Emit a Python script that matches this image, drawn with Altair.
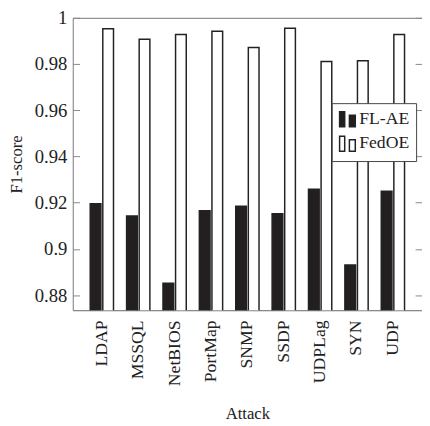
import altair as alt
import pandas as pd

attacks = ["LDAP", "MSSQL", "NetBIOS", "PortMap", "SNMP", "SSDP", "UDPLag", "SYN", "UDP"]
fl_ae = [0.9195, 0.9142, 0.8852, 0.9165, 0.9185, 0.9152, 0.9258, 0.8930, 0.9250]
fedoe = [0.9953, 0.9907, 0.9928, 0.9942, 0.9872, 0.9955, 0.9811, 0.9814, 0.9928]
series = ["FL-AE", "FedOE"]
y_ticks = [0.88, 0.9, 0.92, 0.94, 0.96, 0.98, 1.0]

rows = []
for a, v1, v2 in zip(attacks, fl_ae, fedoe):
    rows.append({"Attack": a, "Method": series[0], "F1": v1})
    rows.append({"Attack": a, "Method": series[1], "F1": v2})
df = pd.DataFrame(rows)

FONT = "'Liberation Serif', 'Times New Roman', 'DejaVu Serif', serif"
symbol_path = "M-1,-0.9H-0.35V1H-1Z M0.25,-0.45H1V1H0.25Z"

yscale = alt.Scale(domain=[0.8735, 1.0], zero=False, nice=False)
xenc = alt.X("Attack:N", sort=attacks,
             scale=alt.Scale(paddingInner=0.36, paddingOuter=0.48),
             axis=alt.Axis(title="Attack", labelAngle=270, ticks=False, labelPadding=10,
                           labelFont=FONT, titleFont=FONT, titleFontWeight="normal",
                           labelFontSize=18, titleFontSize=17, titlePadding=20,
                           domainColor="#888", labelColor="#222", titleColor="#222"))
xoff = alt.XOffset("Method:N", sort=series, scale=alt.Scale(paddingInner=0.15))

bars = alt.Chart(df).mark_bar(stroke="#222", strokeWidth=1.5, clip=True).encode(
    x=xenc,
    xOffset=xoff,
    y=alt.Y("F1:Q", scale=yscale,
            axis=alt.Axis(title="F1-score", values=y_ticks, format="~g", offset=-7, tickSize=7,
                          domain=False, grid=False, labelPadding=6, labelFontSize=19,
                          labelFont=FONT, titleFont=FONT, titleFontWeight="normal",
                          titleFontSize=17, titlePadding=9, tickColor="#888",
                          labelColor="#222", titleColor="#222")),
    fill=alt.Fill("Method:N", sort=series,
                  scale=alt.Scale(domain=series, range=["#231f20", "#ffffff"]),
                  legend=alt.Legend(title=None, orient="none", legendX=264, legendY=87,
                                    symbolType=symbol_path, symbolSize=256,
                                    symbolStrokeColor="#222", symbolStrokeWidth=1.5,
                                    labelFontSize=18, labelFont=FONT, labelColor="#222",
                                    labelOffset=3, rowPadding=3, padding=7,
                                    fillColor="white", strokeColor="#444")),
)

right_ticks = alt.Chart(df).mark_bar(opacity=0).encode(
    x=alt.X("Attack:N", sort=attacks, scale=alt.Scale(paddingInner=0.36, paddingOuter=0.48)),
    y=alt.Y("F1:Q", scale=yscale,
            axis=alt.Axis(orient="right", title=None, values=y_ticks, labels=False,
                          offset=-7, tickSize=7, domain=False, grid=False, tickColor="#888")),
)

chart = alt.layer(bars, right_ticks).resolve_axis(y="independent").properties(
    width=356, height=298,
    autosize=alt.AutoSizeParams(type="none"),
    padding={"left": 66, "top": 6, "right": 0, "bottom": 110},
).configure(font=FONT).configure_view(stroke="#777", strokeWidth=1)

chart.save("out.html", embed_options={"renderer": "svg", "actions": False})
